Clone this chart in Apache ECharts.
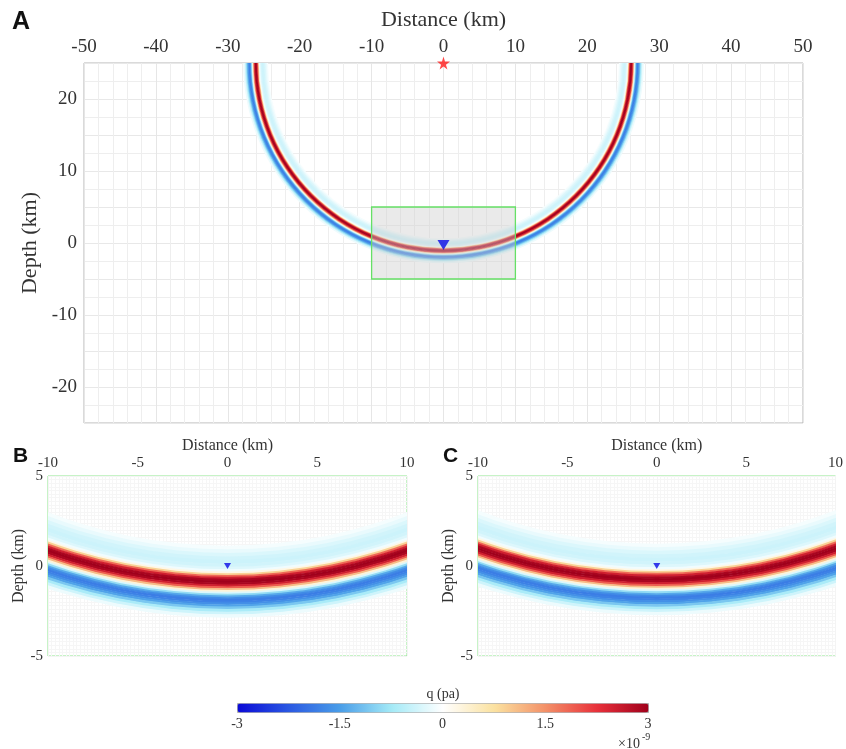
<!DOCTYPE html>
<html><head><meta charset="utf-8">
<script src="https://cdn.jsdelivr.net/npm/echarts@6/dist/echarts.min.js"></script>
<style>html,body{margin:0;padding:0;background:#fff}#c{width:846px;height:749px}</style>
</head><body><div id="c"></div>
<script>
// ---------- data ----------
const xTicksA = [-50, -40, -30, -20, -10, 0, 10, 20, 30, 40, 50];
const yTicksA = [-20, -10, 0, 10, 20];
const yRangeA = [-25, 25];
const xTicksB = [-10, -5, 0, 5, 10];
const yTicksB = [-5, 0, 5];
const colorTicks = [-3, -1.5, 0, 1.5, 3];

// radial wave profile across the wavefront: offset from peak radius (km, + = outward)
const profileOffsets = [-1.9, -1.7, -1.5, -1.3, -1.1, -0.9, -0.75, -0.62, -0.52, -0.42, -0.32, -0.22, -0.11, 0.0,
  0.11, 0.22, 0.32, 0.42, 0.52, 0.62, 0.72, 0.82, 0.92, 1.02, 1.12, 1.22, 1.32, 1.45, 1.6, 1.75, 1.9];
// amplitude q (x1e-9 Pa)
const profileValues = [-0.08, -0.18, -0.3, -0.38, -0.42, -0.38, -0.28, -0.12, 0.2, 0.9, 1.8, 2.5, 2.9, 3.0,
  2.9, 2.5, 1.9, 1.1, 0.3, -0.3, -0.9, -1.4, -1.7, -1.85, -1.8, -1.65, -1.45, -1.1, -0.7, -0.4, -0.15];

const ringCenterA = [0, 25];
const ringRadiusA = 26.1;
const ringCenterBC = [0, 28.8];
const ringRadiusBC = 29.75;

const sourcePos = [0, 25];
const receiverPos = [0, 0];
const zoomBox = [-10, 5, 10, -5];

const colorStops = ['#0a0ad6', '#2a58e2', '#4a9ee8', '#a4eaf7', '#ffffff', '#fbe2a0', '#f39068', '#e8303a', '#a0001c'];

// ---------- build series data ----------
function ringData() {
  const n = profileOffsets.length, out = [];
  for (let i = 0; i < n; i++) {
    const inner = i === 0 ? profileOffsets[0] - (profileOffsets[1] - profileOffsets[0]) / 2
                          : (profileOffsets[i - 1] + profileOffsets[i]) / 2;
    const outer = i === n - 1 ? profileOffsets[n - 1] + (profileOffsets[n - 1] - profileOffsets[n - 2]) / 2
                              : (profileOffsets[i] + profileOffsets[i + 1]) / 2;
    out.push([inner, outer, profileValues[i]]);
  }
  return out;
}
function ringRenderer(center, R, widthScale) {
  return function (params, api) {
    const c = api.coord(center);
    const r0 = api.size([R + widthScale * api.value(0), 0])[0];
    const r1 = api.size([R + widthScale * api.value(1), 0])[0];
    return { type: 'ring', shape: { cx: c[0], cy: c[1], r0: r0, r: r1 + 0.6 },
             style: { fill: api.visual('color') } };
  };
}

const SERIF = 'Liberation Serif';
const TXT = '#333';
function gridLines(minorN, major, minor) {
  return {
    splitLine: { show: true, lineStyle: { color: major, width: 1 } },
    minorTick: { show: false, splitNumber: minorN },
    minorSplitLine: { show: true, lineStyle: { color: minor, width: 1 } }
  };
}

const chart = echarts.init(document.getElementById('c'), null, { renderer: 'canvas' });

const option = {
  animation: false,
  backgroundColor: '#fff',
  grid: [
    { left: 84, top: 63, width: 719, height: 360, show: true, borderColor: '#b4b4b4', borderWidth: 1, backgroundColor: '#fff' },
    { left: 48, top: 476, width: 359, height: 180, show: true, borderColor: '#8fe68f', borderWidth: 1, backgroundColor: '#fff' },
    { left: 478, top: 476, width: 359, height: 180, show: true, borderColor: '#8fe68f', borderWidth: 1, backgroundColor: '#fff' },
    { left: 237, top: 703, width: 411, height: 9, show: false }
  ],
  xAxis: [
    Object.assign({ gridIndex: 0, type: 'value', position: 'top', min: xTicksA[0], max: xTicksA[xTicksA.length - 1], interval: 10,
      name: 'Distance (km)', nameLocation: 'middle', nameGap: 32,
      nameTextStyle: { fontFamily: SERIF, fontSize: 22, color: TXT },
      axisLine: { show: false }, axisTick: { show: false },
      axisLabel: { fontFamily: SERIF, fontSize: 19, color: TXT, margin: 6 } }, gridLines(5, '#e6e6e6', '#eeeeee')),
    Object.assign({ gridIndex: 1, type: 'value', position: 'top', min: xTicksB[0], max: xTicksB[xTicksB.length - 1], interval: 5,
      name: 'Distance (km)', nameLocation: 'middle', nameGap: 22,
      nameTextStyle: { fontFamily: SERIF, fontSize: 16, color: TXT },
      axisLine: { show: false }, axisTick: { show: false },
      axisLabel: { fontFamily: SERIF, fontSize: 15, color: TXT, margin: 5 } }, gridLines(25, '#f4f4f4', '#f6f6f6')),
    Object.assign({ gridIndex: 2, type: 'value', position: 'top', min: xTicksB[0], max: xTicksB[xTicksB.length - 1], interval: 5,
      name: 'Distance (km)', nameLocation: 'middle', nameGap: 22,
      nameTextStyle: { fontFamily: SERIF, fontSize: 16, color: TXT },
      axisLine: { show: false }, axisTick: { show: false },
      axisLabel: { fontFamily: SERIF, fontSize: 15, color: TXT, margin: 5 } }, gridLines(25, '#f4f4f4', '#f6f6f6')),
    { gridIndex: 3, type: 'value', position: 'bottom', min: colorTicks[0], max: colorTicks[colorTicks.length - 1], interval: 1.5,
      axisLine: { show: false }, splitLine: { show: false },
      axisTick: { show: true, inside: true, length: 3, lineStyle: { color: '#777' } },
      axisLabel: { fontFamily: SERIF, fontSize: 14, color: TXT, margin: 5 } }
  ],
  yAxis: [
    Object.assign({ gridIndex: 0, type: 'value', min: yRangeA[0], max: yRangeA[1], interval: 5,
      name: 'Depth (km)', nameLocation: 'middle', nameGap: 33, nameRotate: 90,
      nameTextStyle: { fontFamily: SERIF, fontSize: 22, color: TXT },
      axisLine: { show: false }, axisTick: { show: false },
      axisLabel: { fontFamily: SERIF, fontSize: 19, color: TXT, margin: 7,
        formatter: v => (yTicksA.indexOf(v) >= 0 ? String(v) : '') } }, gridLines(2, '#e8e8e8', '#eeeeee')),
    Object.assign({ gridIndex: 1, type: 'value', min: yTicksB[0], max: yTicksB[yTicksB.length - 1], interval: 5,
      name: 'Depth (km)', nameLocation: 'middle', nameGap: 21, nameRotate: 90,
      nameTextStyle: { fontFamily: SERIF, fontSize: 16, color: TXT },
      axisLine: { show: false }, axisTick: { show: false },
      axisLabel: { fontFamily: SERIF, fontSize: 15, color: TXT, margin: 5 } }, gridLines(25, '#f4f4f4', '#f6f6f6')),
    Object.assign({ gridIndex: 2, type: 'value', min: yTicksB[0], max: yTicksB[yTicksB.length - 1], interval: 5,
      name: 'Depth (km)', nameLocation: 'middle', nameGap: 21, nameRotate: 90,
      nameTextStyle: { fontFamily: SERIF, fontSize: 16, color: TXT },
      axisLine: { show: false }, axisTick: { show: false },
      axisLabel: { fontFamily: SERIF, fontSize: 15, color: TXT, margin: 5 } }, gridLines(25, '#f4f4f4', '#f6f6f6')),
    { gridIndex: 3, type: 'value', min: 0, max: 1, show: false }
  ],
  visualMap: [{
    type: 'continuous', min: colorTicks[0], max: colorTicks[colorTicks.length - 1],
    orient: 'horizontal', left: 237, top: 703, itemWidth: 9, itemHeight: 411,
    padding: 0, calculable: false, hoverLink: false, realtime: false,
    seriesIndex: [0, 3, 5], dimension: 2,
    borderColor: '#aaa', borderWidth: 1,
    inRange: { color: colorStops }
  }],
  series: [
    { type: 'custom', xAxisIndex: 0, yAxisIndex: 0, clip: true, z: 2, silent: true,
      renderItem: ringRenderer(ringCenterA, ringRadiusA, 0.85), data: ringData() },
    { type: 'custom', xAxisIndex: 0, yAxisIndex: 0, clip: true, z: 5, silent: true,
      renderItem: function (params, api) {
        const p1 = api.coord([api.value(0), api.value(1)]);
        const p2 = api.coord([api.value(2), api.value(3)]);
        return { type: 'rect', shape: { x: p1[0], y: p1[1], width: p2[0] - p1[0], height: p2[1] - p1[1] },
                 style: { fill: 'rgba(205,205,205,0.42)', stroke: '#66e066', lineWidth: 1.3 } };
      },
      data: [zoomBox] },
    { type: 'scatter', xAxisIndex: 0, yAxisIndex: 0, clip: false, z: 6, silent: true,
      data: [
        { value: sourcePos, symbol: 'path://M50,0 L61,35 L98,35 L68,57 L79,91 L50,70 L21,91 L32,57 L2,35 L39,35 Z',
          symbolSize: 13, itemStyle: { color: '#ff1a1a' } },
        { value: receiverPos, symbol: 'triangle', symbolRotate: 180, symbolSize: [12, 10], symbolOffset: [0, 2],
          itemStyle: { color: '#0a0ae6' } }
      ] },
    { type: 'custom', xAxisIndex: 1, yAxisIndex: 1, clip: true, z: 2, silent: true,
      renderItem: ringRenderer(ringCenterBC, ringRadiusBC, 1), data: ringData() },
    { type: 'scatter', xAxisIndex: 1, yAxisIndex: 1, z: 6, silent: true, symbol: 'triangle', symbolRotate: 180,
      symbolSize: [7, 6], itemStyle: { color: '#0a0ae6' }, data: [receiverPos] },
    { type: 'custom', xAxisIndex: 2, yAxisIndex: 2, clip: true, z: 2, silent: true,
      renderItem: ringRenderer(ringCenterBC, ringRadiusBC, 1), data: ringData() },
    { type: 'scatter', xAxisIndex: 2, yAxisIndex: 2, z: 6, silent: true, symbol: 'triangle', symbolRotate: 180,
      symbolSize: [7, 6], itemStyle: { color: '#0a0ae6' }, data: [receiverPos] },
    { type: 'scatter', xAxisIndex: 3, yAxisIndex: 3, silent: true, data: [] }
  ],
  graphic: [
    { type: 'text', left: 12, top: 10, style: { text: 'A', font: 'bold 25px "Liberation Sans"', fill: '#111' } },
    { type: 'text', left: 13, top: 446, style: { text: 'B', font: 'bold 21px "Liberation Sans"', fill: '#111' } },
    { type: 'text', left: 443, top: 446, style: { text: 'C', font: 'bold 21px "Liberation Sans"', fill: '#111' } },
    { type: 'text', x: 443, y: 694, style: { text: 'q (pa)', font: '14px "Liberation Serif"', fill: TXT, textAlign: 'center', textVerticalAlign: 'middle' } },
    { type: 'text', x: 618, y: 744, style: { text: '×10', font: '14px "Liberation Serif"', fill: TXT, textVerticalAlign: 'middle' } },
    { type: 'text', x: 642, y: 737, style: { text: '-9', font: '10px "Liberation Serif"', fill: TXT, textVerticalAlign: 'middle' } }
  ]
};
chart.setOption(option);
</script>
</body></html>
